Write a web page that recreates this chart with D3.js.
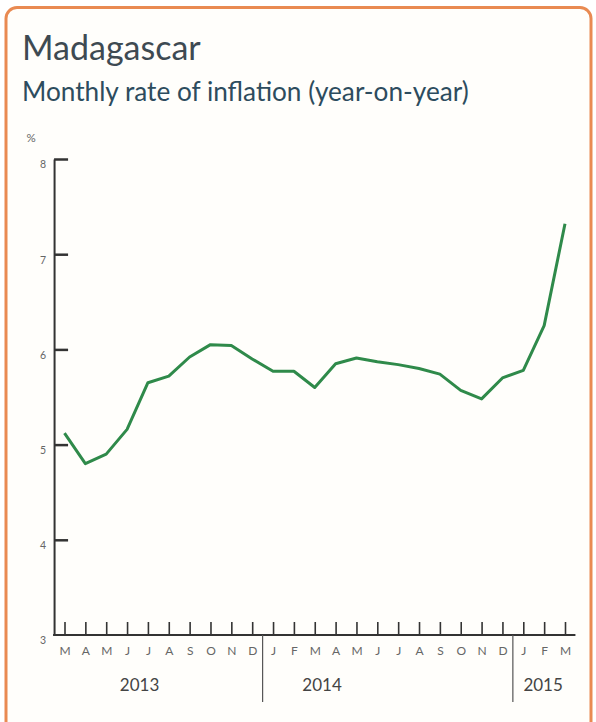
<!DOCTYPE html>
<html>
<head>
<meta charset="utf-8">
<script src="https://cdn.jsdelivr.net/npm/d3@7"></script>
<style>
  body { margin: 0; background: #fff; }
  svg { display: block; font-family: Lato, "Open Sans", sans-serif; }
  .title { font-size: 34px; fill: #3e4a52; }
  .subtitle { font-size: 26.2px; fill: #2d4c5e; }
  .axis text { fill: #666; }
  .yearLabel { font-size: 17px; fill: #444; }
</style>
</head>
<body>
<div id="chart"></div>
<script>
// months shown on the x axis, Mar 2013 - Mar 2015
const monthLabels = ["M","A","M","J","J","A","S","O","N","D",
  "J","F","M","A","M","J","J","A","S","O","N","D",
  "J","F","M"];
// year-on-year inflation, %
const inflation = [5.12, 4.80, 4.90, 5.16, 5.65, 5.72, 5.92, 6.05, 6.04, 5.90,
  5.77, 5.77, 5.60, 5.85, 5.91, 5.87, 5.84, 5.80, 5.74, 5.57, 5.48, 5.70,
  5.78, 6.25, 7.32];
const yTicks = [3, 4, 5, 6, 7, 8];
const years = ["2013", "2014", "2015"];
const yearLabelAt = [3.6, 12.35, 22.95];   // month index under which each year sits
const yearBreaks = [9.5, 21.5];             // between Dec and Jan

const width = 596, height = 722;

const svg = d3.select("#chart")
  .append("svg")
  .attr("width", width)
  .attr("height", height);

// frame
svg.append("rect")
  .attr("x", 6)
  .attr("y", 7.5)
  .attr("width", 585)
  .attr("height", 740)
  .attr("rx", 11)
  .attr("fill", "#fffefb")
  .attr("stroke", "#e98a52")
  .attr("stroke-width", 3);

svg.append("text")
  .attr("class", "title")
  .attr("x", 22)
  .attr("y", 60)
  .text("Madagascar");

svg.append("text")
  .attr("class", "subtitle")
  .attr("x", 22)
  .attr("y", 101)
  .text("Monthly rate of inflation (year-on-year)");

const x = d3.scaleLinear()
  .domain([0, monthLabels.length - 1])
  .range([64.5, 565]);

const y = d3.scaleLinear()
  .domain([3, 8])
  .range([635, 159]);

const x0 = x(-0.5), x1 = x(monthLabels.length - 0.5);

// y axis
const yAxis = d3.axisLeft(y)
  .tickValues(yTicks)
  .tickFormat(d3.format("d"))
  .tickSizeInner(-14)
  .tickSizeOuter(0)
  .tickPadding(8);

const gy = svg.append("g")
  .attr("class", "axis")
  .attr("transform", "translate(" + x0 + ",0)")
  .call(yAxis);
gy.select(".domain").attr("stroke", "#333").attr("stroke-width", 2);
gy.selectAll(".tick line").attr("stroke", "#333").attr("stroke-width", 2.5);
gy.selectAll(".tick text")
  .attr("font-size", 10.5)
  .attr("dy", "0.85em")
  .attr("font-family", "Lato, sans-serif");
gy.selectAll(".tick").filter((d) => d === 3).select("line").remove();

svg.append("text")
  .attr("x", 31)
  .attr("y", 142)
  .attr("text-anchor", "middle")
  .attr("font-size", 11.5)
  .attr("fill", "#666")
  .text("%");

// x axis
const xAxis = d3.axisBottom(x)
  .tickValues(d3.range(monthLabels.length))
  .tickFormat((d) => monthLabels[d])
  .tickSizeInner(-13)
  .tickSizeOuter(0)
  .tickPadding(20);

const gx = svg.append("g")
  .attr("class", "axis")
  .attr("transform", "translate(0," + y(3) + ")")
  .call(xAxis);
gx.select(".domain").remove();
gx.selectAll(".tick line").attr("stroke", "#333").attr("stroke-width", 1.6);
gx.selectAll(".tick text")
  .attr("font-size", 12)
  .attr("fill", "#5a5a5a")
  .attr("font-family", "Lato, sans-serif")
  .attr("dy", "0");

svg.append("line")
  .attr("x1", x0 - 1)
  .attr("x2", x1)
  .attr("y1", y(3))
  .attr("y2", y(3))
  .attr("stroke", "#333")
  .attr("stroke-width", 2);

svg.selectAll(".yearBreak")
  .data(yearBreaks)
  .enter().append("line")
  .attr("class", "yearBreak")
  .attr("x1", (d) => x(d))
  .attr("x2", (d) => x(d))
  .attr("y1", y(3))
  .attr("y2", y(3) + 67)
  .attr("stroke", "#555")
  .attr("stroke-width", 1.2);

svg.selectAll(".yearLabel")
  .data(years)
  .enter().append("text")
  .attr("class", "yearLabel")
  .attr("x", (d, i) => x(yearLabelAt[i]))
  .attr("y", y(3) + 56)
  .attr("text-anchor", "middle")
  .text(String);

// series
const line = d3.line()
  .x((d, i) => x(i))
  .y((d) => y(d));

svg.append("path")
  .datum(inflation)
  .attr("d", line)
  .attr("fill", "none")
  .attr("stroke", "#2f8a4a")
  .attr("stroke-width", 3)
  .attr("stroke-linejoin", "round");
</script>
</body>
</html>
